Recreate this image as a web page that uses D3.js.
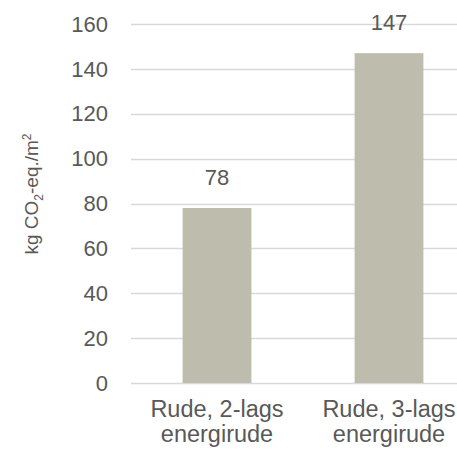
<!DOCTYPE html>
<html>
<head>
<meta charset="utf-8">
<script src="https://cdn.jsdelivr.net/npm/d3@7"></script>
<style>
  body { margin: 0; background: #fff; }
  text { font-family: "Liberation Sans", Arial, sans-serif; fill: #595959; }
</style>
</head>
<body>
<div id="chart"></div>
<script>
// data
const categories = [["Rude, 2-lags", "energirude"], ["Rude, 3-lags", "energirude"]];
const values = [78, 147];
const yTicks = [0, 20, 40, 60, 80, 100, 120, 140, 160];

const width = 457, height = 451;
const plotLeft = 131, plotRight = 475; // plot area runs a bit past the window edge
const plotTop = 24, plotBottom = 383;

const svg = d3.select("#chart").append("svg")
  .attr("width", width)
  .attr("height", height);

const x = d3.scaleBand()
  .domain(d3.range(values.length))
  .range([plotLeft, plotRight])
  .paddingInner(0.6)
  .paddingOuter(0.3);

const y = d3.scaleLinear().domain([0, 160]).range([plotBottom, plotTop]);

// gridlines
svg.append("g").selectAll("line")
  .data(yTicks)
  .enter().append("line")
  .attr("x1", plotLeft)
  .attr("x2", width)
  .attr("y1", d => Math.round(y(d)) + 0.5)
  .attr("y2", d => Math.round(y(d)) + 0.5)
  .attr("stroke", "#d9d9d9")
  .attr("stroke-width", 1.5);

// y tick labels
svg.append("g").selectAll("text")
  .data(yTicks)
  .enter().append("text")
  .attr("x", 108)
  .attr("y", d => y(d))
  .attr("dy", "0.35em")
  .attr("text-anchor", "end")
  .style("font-size", "22px")
  .text(d => d);

// bars
svg.append("g").selectAll("rect")
  .data(values)
  .enter().append("rect")
  .attr("x", (d, i) => x(i))
  .attr("width", x.bandwidth())
  .attr("y", d => y(d))
  .attr("height", d => y(0) - y(d))
  .attr("fill", "#bebcac");

// value labels
svg.append("g").selectAll("text")
  .data(values)
  .enter().append("text")
  .attr("x", (d, i) => x(i) + x.bandwidth() / 2)
  .attr("y", d => y(d) - 23)
  .attr("text-anchor", "middle")
  .style("font-size", "22px")
  .text(d => d);

// category labels, two lines each
const cat = svg.append("g").selectAll("text")
  .data(categories)
  .enter().append("text")
  .attr("text-anchor", "middle")
  .style("font-size", "23.5px");
cat.each(function(lines, i) {
  const t = d3.select(this);
  lines.forEach((ln, j) => {
    t.append("tspan")
      .attr("x", x(i) + x.bandwidth() / 2)
      .attr("y", 417 + j * 25)
      .text(ln);
  });
});

// y axis title
const title = svg.append("text")
  .attr("transform", "translate(38,194) rotate(-90)")
  .attr("text-anchor", "middle")
  .style("font-size", "19px");
title.append("tspan").text("kg CO");
title.append("tspan").attr("dy", 5).style("font-size", "12px").text("2");
title.append("tspan").attr("dy", -5).text("-eq./m");
title.append("tspan").attr("dy", -7).style("font-size", "12px").text("2");
</script>
</body>
</html>
